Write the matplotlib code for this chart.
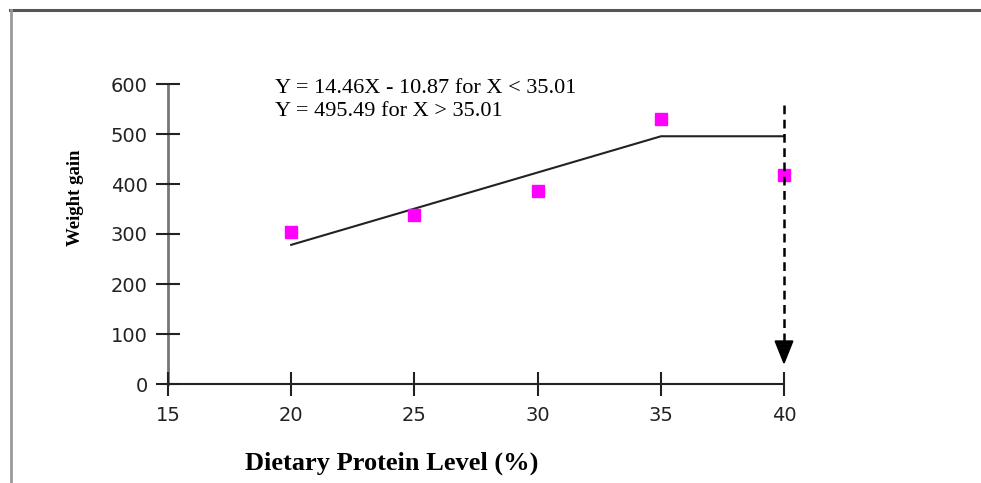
import matplotlib.pyplot as plt
from matplotlib.lines import Line2D

# observed points (magenta squares)
protein = [20, 25, 30, 35, 40]
gain = [304, 338, 386, 530, 418]

# broken-line fit
fit_x = [20, 35.01, 40]
fit_y = [278.3, 495.49, 495.49]

# dashed arrow at the breakpoint side
arrow_x = 40
arrow_top = 558
arrow_tip = 38
arrow_base = 68

xticks = [15, 20, 25, 30, 35, 40]
yticks = [0, 100, 200, 300, 400, 500, 600]

fig = plt.figure(figsize=(9.81, 4.83), dpi=100)

# page frame (only top and left visible)
fig.add_artist(Line2D([10 / 981, 1], [1 - 10 / 483, 1 - 10 / 483], color="#555555", lw=2.2))
fig.add_artist(Line2D([11 / 981, 11 / 981], [0, 1 - 10 / 483], color="#999999", lw=2.0))

ax = fig.add_axes([168 / 981, 1 - 384 / 483, (784 - 168) / 981, 300 / 483])

ax.plot(fit_x, fit_y, color="#222222", lw=1.5, clip_on=False)
ax.plot(protein, gain, "s", color="#ff00ff", markersize=8.5, zorder=2, clip_on=False)

# dashed shaft + solid head
ax.plot([arrow_x, arrow_x], [arrow_top, arrow_base], color="black", lw=1.8,
        linestyle=(0, (3.5, 2.2)), zorder=3, clip_on=False)
ax.annotate("", xy=(arrow_x, arrow_tip), xytext=(arrow_x, arrow_base),
            arrowprops=dict(arrowstyle="-|>,head_length=0.75,head_width=0.3", color="black",
                            lw=1.5, mutation_scale=20, shrinkA=0, shrinkB=0), zorder=3)

ax.text(19.35, 610, "Y = 14.46X - 10.87 for X < 35.01\nY = 495.49 for X > 35.01",
        family="Liberation Serif", fontsize=16, va="top", ha="left", linespacing=1.25)

ax.set_xlim(15, 40)
ax.set_ylim(0, 600)
ax.set_xticks(xticks)
ax.set_yticks(yticks)

for s in ["top", "right"]:
    ax.spines[s].set_visible(False)
ax.spines["left"].set_color("#777777")
ax.spines["left"].set_linewidth(2.0)
ax.spines["bottom"].set_color("#222222")
ax.spines["bottom"].set_linewidth(1.5)
ax.spines["left"].set_zorder(1)

ax.tick_params(axis="both", direction="inout", length=17, width=1.5, color="#222222",
               labelsize=14, labelcolor="#222222")
ax.tick_params(axis="y", pad=6)
ax.tick_params(axis="x", pad=7)

fig.text(392 / 981, 1 - 463 / 483, "Dietary Protein Level (%)", family="Liberation Serif",
         fontweight="bold", fontsize=19, ha="center", va="center")
fig.text(76 / 981, 1 - 198 / 483, "Weight gain", family="Liberation Serif",
         fontweight="bold", fontsize=13.5, rotation=90, ha="center", va="center")

fig.savefig("out.png", dpi=100)
